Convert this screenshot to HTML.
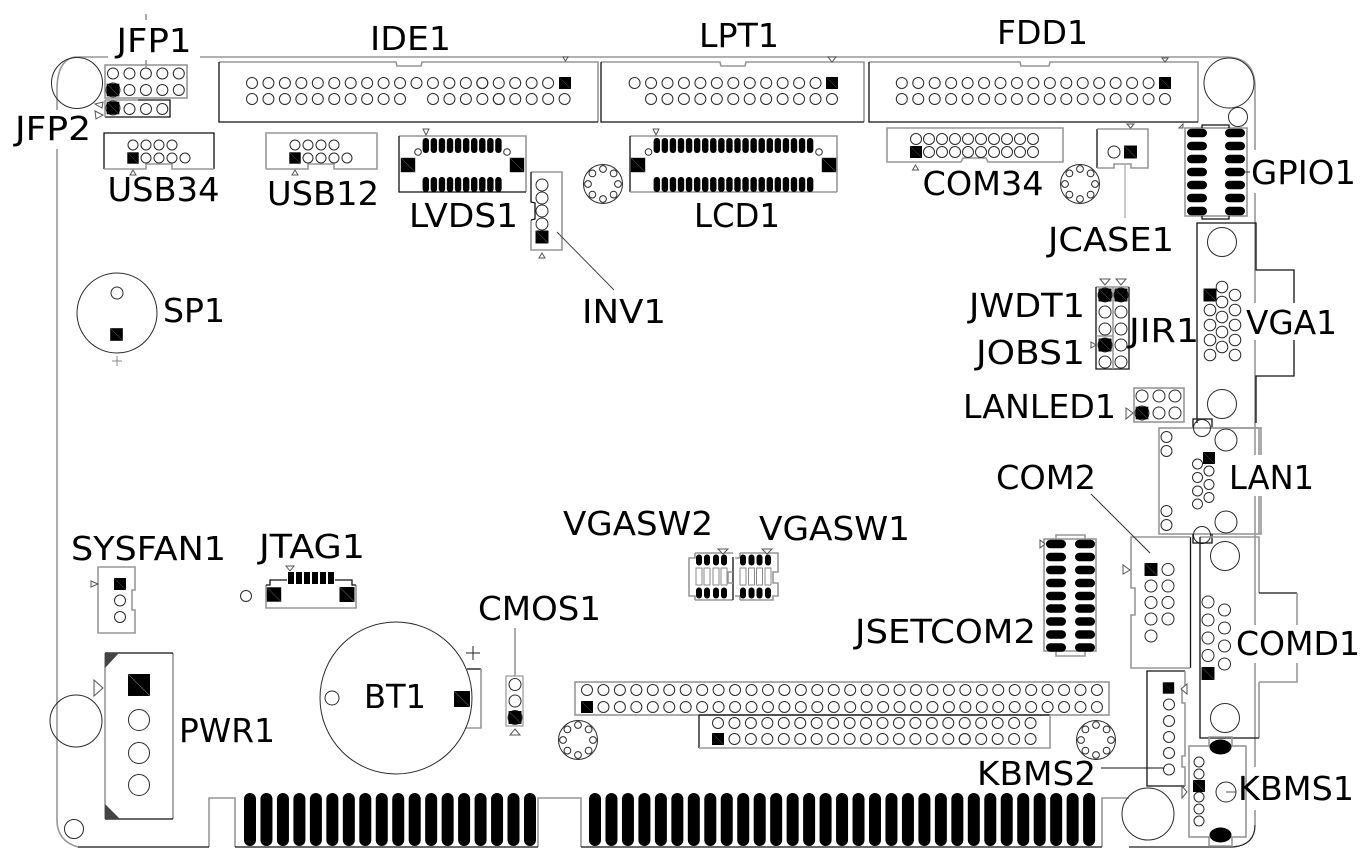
<!DOCTYPE html>
<html><head><meta charset="utf-8"><title>Board layout</title>
<style>
html,body{margin:0;padding:0;background:#fff}
svg{display:block}
text{font-family:"DejaVu Sans","Liberation Sans",sans-serif;font-size:33px;fill:#000;text-anchor:middle}
.g{fill:none;stroke:#979797;stroke-width:1.6}
.b{fill:none;stroke:#111;stroke-width:1.3}
.c{fill:none;stroke:#2a2a2a;stroke-width:1}
.t{fill:#fff;stroke:#555;stroke-width:1}
.k{fill:#000}
</style></head><body>
<svg width="1365" height="863" viewBox="0 0 1365 863" xmlns="http://www.w3.org/2000/svg">
<defs>
<circle id="c" r="5.5"/>
<g id="r5"><use href="#c"/><use href="#c" x="16.45"/><use href="#c" x="32.9"/><use href="#c" x="49.35"/><use href="#c" x="65.8"/></g>
<g id="r10"><use href="#r5"/><use href="#r5" x="82.25"/></g>
<g id="s"><rect x="-6" y="-6" width="12" height="12" fill="#000"/><line x1="-6" y1="-6" x2="6" y2="6" stroke="#4d5a4d" stroke-width=".5"/></g>
<rect id="p" x="0" y="0" width="12" height="53" rx="6" fill="#000"/>
<g id="p5"><use href="#p"/><use href="#p" x="16.47"/><use href="#p" x="32.94"/><use href="#p" x="49.41"/><use href="#p" x="65.88"/></g>
<g id="p10"><use href="#p5"/><use href="#p5" x="82.35"/></g>
<rect id="lp" x="-0.4" y="0" width="6.4" height="15" rx="3" fill="#000"/>
<g id="lp10"><use href="#lp"/><use href="#lp" x="8.07"/><use href="#lp" x="16.14"/><use href="#lp" x="24.21"/><use href="#lp" x="32.28"/><use href="#lp" x="40.35"/><use href="#lp" x="48.42"/><use href="#lp" x="56.49"/><use href="#lp" x="64.56"/><use href="#lp" x="72.63"/></g>
<rect id="hp" x="0" y="-4.3" width="20" height="8.6" rx="4.3" fill="#000"/>
<g id="so" class="c"><circle r="19.5"/><circle cy="-15" r="3.4"/><circle cx="10.6" cy="-10.6" r="3.4"/><circle cx="15" r="3.4"/><circle cx="10.6" cy="10.6" r="3.4"/><circle cy="15" r="3.4"/><circle cx="-10.6" cy="10.6" r="3.4"/><circle cx="-15" r="3.4"/><circle cx="-10.6" cy="-10.6" r="3.4"/></g>
<g id="swp"><rect x="-3" y="-5.5" width="6" height="11" rx="3" fill="#000"/><rect x="-3" y="8" width="6" height="17" fill="none" stroke="#8a8a8a" stroke-width="1"/><rect x="-3" y="27.5" width="6" height="11" rx="3" fill="#000"/></g>
</defs>

<!-- board outline -->
<path class="g" d="M75 57H1225Q1255 57 1255 87V825"/>
<path class="g" d="M75 57Q57 60 57 90V820Q57 841 78 847"/>
<path class="g" d="M209 847V798H235V847M538 847V798H581V847M1102 847V798H1129"/>
<path class="b" d="M78 847H209M235 847H538M581 847H1102"/>
<path d="M1129 847H1233Q1255 845 1255 825" fill="none" stroke="#222" stroke-width="1.2"/>
<path class="g" d="M146 14V20M146 60V67"/>

<!-- holes -->
<g class="c">
<circle cx="77" cy="83" r="25.5"/><circle cx="1229" cy="83" r="25"/><circle cx="1238" cy="117" r="9.5"/>
<circle cx="76" cy="721" r="26"/><circle cx="74" cy="829" r="9.5"/><circle cx="1148" cy="814" r="26"/>
<circle cx="246" cy="596" r="5.5"/>
</g>
<use href="#so" x="603" y="184"/><use href="#so" x="1080" y="184"/><use href="#so" x="578" y="740"/><use href="#so" x="1096" y="740"/>

<!-- JFP1 / JFP2 -->
<rect class="g" x="105" y="65" width="82" height="33"/>
<path class="g" d="M105 100H138"/><path class="b" d="M138 100H170V117H105"/><path class="g" d="M105 100V117"/>
<g class="c"><use href="#r5" x="113" y="73.5"/><use href="#r5" x="113" y="90"/><use href="#c" x="129.5" y="109"/><use href="#c" x="146" y="109"/><use href="#c" x="162.3" y="109"/><circle cx="113" cy="90" r="7"/><circle cx="113" cy="108" r="7"/></g>
<use href="#s" transform="translate(113 90) scale(1.05)"/><use href="#s" transform="translate(113 108) scale(1.05)"/>
<polygon class="t" points="95,104 103,102 102,108"/><polygon class="t" points="95,111 103,115 96,119"/>

<!-- IDE1 -->
<path class="g" d="M219 62H396L397 66H421L422 62H598V122"/><path class="b" d="M219 62V122H598"/>
<g class="c"><use href="#r10" x="252" y="83"/><use href="#r5" x="416.5" y="83"/><use href="#r5" x="482.3" y="83"/>
<use href="#r10" x="252" y="99"/><use href="#r5" x="433" y="99"/><use href="#r5" x="498.8" y="99"/></g>
<use href="#s" transform="translate(565 83)"/><polygon class="t" points="563,57 568,57 565.5,61"/>

<!-- LPT1 -->
<path class="g" d="M601 62H720L721 66H745L746 62H864V122"/><path class="b" d="M601 62V122H864"/>
<g class="c"><use href="#r10" x="634.6" y="83"/><use href="#c" x="799.1" y="83"/><use href="#c" x="815.55" y="83"/>
<use href="#r10" x="651" y="99"/><use href="#c" x="815.5" y="99"/><use href="#c" x="832" y="99"/></g>
<use href="#s" transform="translate(832 83)"/><polygon class="t" points="828,57 836,57 832,62"/>

<!-- FDD1 -->
<path class="g" d="M869 62H1020L1021 66H1049L1050 62H1198V122"/><path class="b" d="M869 62V122H1198"/>
<g class="c"><use href="#r10" x="901.8" y="83"/><use href="#r5" x="1066.3" y="83"/><use href="#c" x="1148.55" y="83"/>
<use href="#r10" x="901.8" y="99"/><use href="#r5" x="1066.3" y="99"/><use href="#c" x="1148.55" y="99"/><use href="#c" x="1165" y="99"/></g>
<use href="#s" transform="translate(1165 83)"/><polygon class="t" points="1162,58 1168,58 1165,62"/>

<!-- USB34 / USB12 -->
<path class="b" d="M104 169V133H214V169"/><path class="g" d="M104 169H146V164H172V169H214"/>
<g class="c"><circle cx="133" cy="145" r="5"/><circle cx="146" cy="145" r="5"/><circle cx="159" cy="145" r="5"/><circle cx="172" cy="145" r="5"/><circle cx="146" cy="158" r="5"/><circle cx="159" cy="158" r="5"/><circle cx="172" cy="158" r="5"/><circle cx="185" cy="158" r="5"/></g>
<use href="#s" transform="translate(133 158) scale(.95)"/><polygon class="t" points="133,170 136,175 130,175"/>
<path class="g" d="M266 169V133H377V169H334V164H308V169H266"/>
<g class="c"><circle cx="295" cy="145" r="5"/><circle cx="308" cy="145" r="5"/><circle cx="321" cy="145" r="5"/><circle cx="334" cy="145" r="5"/><circle cx="308" cy="158" r="5"/><circle cx="321" cy="158" r="5"/><circle cx="334" cy="158" r="5"/><circle cx="347" cy="158" r="5"/></g>
<use href="#s" transform="translate(295 158) scale(.95)"/><polygon class="t" points="295,170 298,175 292,175"/>

<!-- LVDS1 -->
<path class="g" d="M399 136H526V192"/><path class="b" d="M399 136V192H526"/>
<use href="#lp10" x="423" y="138"/><use href="#lp10" x="423" y="177"/>
<g class="c"><circle cx="418" cy="152" r="3.3"/><circle cx="507" cy="152" r="3.3"/></g>
<use href="#s" transform="translate(408 165) scale(1.2)"/><use href="#s" transform="translate(517 165) scale(1.2)"/>
<polygon class="t" points="423,129 429,129 426,135"/>

<!-- LCD1 -->
<path class="g" d="M630 136H837V192"/><path class="b" d="M630 136V192"/><path class="g" d="M630 192H837"/>
<use href="#lp10" x="654" y="138"/><use href="#lp10" x="734.7" y="138"/><use href="#lp10" x="654" y="177"/><use href="#lp10" x="734.7" y="177"/>
<g class="c"><circle cx="648.5" cy="152" r="3.3"/><circle cx="819" cy="152" r="3.3"/></g>
<use href="#s" transform="translate(638 165) scale(1.2)"/><use href="#s" transform="translate(829 165) scale(1.2)"/>
<polygon class="t" points="653,129 659,129 656,135"/>

<!-- INV1 -->
<path class="g" d="M531 172H562V250H531V220"/><path class="b" d="M531 172V202L535 203V219L531 220"/>
<g class="c"><circle cx="542" cy="185" r="6"/><circle cx="542" cy="198" r="6"/><circle cx="542" cy="211" r="6"/><circle cx="542" cy="224" r="6"/></g>
<use href="#s" transform="translate(542 237) scale(1.08)"/><polygon class="t" points="542,253 545,258 539,258"/>
<path d="M557 232L614 290" stroke="#444" stroke-width="1" fill="none"/>

<!-- COM34 -->
<path class="g" d="M887 128H1063V162H988L986 158H963L961 162H887Z"/>
<g class="c"><circle cx="916" cy="139" r="5.5"/><circle cx="929" cy="139" r="5.5"/><circle cx="942" cy="139" r="5.5"/><circle cx="955" cy="139" r="5.5"/><circle cx="968" cy="139" r="5.5"/><circle cx="981" cy="139" r="5.5"/><circle cx="994" cy="139" r="5.5"/><circle cx="1007" cy="139" r="5.5"/><circle cx="1020" cy="139" r="5.5"/><circle cx="1033" cy="139" r="5.5"/>
<circle cx="929" cy="152" r="5.5"/><circle cx="942" cy="152" r="5.5"/><circle cx="955" cy="152" r="5.5"/><circle cx="968" cy="152" r="5.5"/><circle cx="981" cy="152" r="5.5"/><circle cx="994" cy="152" r="5.5"/><circle cx="1007" cy="152" r="5.5"/><circle cx="1020" cy="152" r="5.5"/><circle cx="1033" cy="152" r="5.5"/></g>
<use href="#s" transform="translate(916 152)"/><polygon class="t" points="915.5,165 918.5,170 912.5,170"/>

<!-- JCASE1 -->
<path class="b" d="M1097 129V168"/><path class="g" d="M1097 129H1148V168H1131V164H1114V168H1097"/>
<circle class="c" cx="1114" cy="152" r="6"/><use href="#s" transform="translate(1130.5 152) scale(1.08)"/>
<polygon class="t" points="1127,124 1134,124 1130.5,128"/>
<path class="g" d="M1125 165V218" style="stroke-width:1"/>

<!-- GPIO1 -->
<rect class="g" x="1185" y="128" width="62" height="88"/>
<path class="b" d="M1202 128V125H1229V128M1202 216V219H1229V216"/>
<g id="gpr"><use href="#hp" x="1187" y="133"/><use href="#hp" x="1187" y="146"/><use href="#hp" x="1187" y="159"/><use href="#hp" x="1187" y="172"/><use href="#hp" x="1187" y="185"/><use href="#hp" x="1187" y="198"/><use href="#hp" x="1187" y="211"/>
<use href="#hp" x="1225" y="133"/><use href="#hp" x="1225" y="146"/><use href="#hp" x="1225" y="159"/><use href="#hp" x="1225" y="172"/><use href="#hp" x="1225" y="185"/><use href="#hp" x="1225" y="198"/><use href="#hp" x="1225" y="211"/></g>
<polygon class="t" points="1179,128 1183,124 1183,128"/>
<path d="M1245 172H1250" stroke="#333" stroke-width="1"/>

<!-- VGA1 -->
<path class="b" d="M1197 423V223H1256V270H1294V376H1256V423"/>
<g class="c"><circle cx="1222" cy="242" r="14.5"/><circle cx="1222" cy="404" r="14.5"/>
<circle cx="1222" cy="287" r="5.8"/><circle cx="1222" cy="302" r="5.8"/><circle cx="1222" cy="317" r="5.8"/><circle cx="1222" cy="332" r="5.8"/><circle cx="1222" cy="347" r="5.8"/>
<circle cx="1235" cy="295" r="5.8"/><circle cx="1235" cy="310" r="5.8"/><circle cx="1235" cy="325" r="5.8"/><circle cx="1235" cy="340" r="5.8"/><circle cx="1235" cy="355" r="5.8"/>
<circle cx="1210" cy="310" r="5.8"/><circle cx="1210" cy="325" r="5.8"/><circle cx="1210" cy="340" r="5.8"/><circle cx="1210" cy="355" r="5.8"/></g>
<use href="#s" transform="translate(1210 295) scale(1.08)"/>

<!-- JWDT/JIR/JOBS -->
<path class="g" d="M1096 287H1129"/><path class="b" d="M1096 287V369H1129V287"/><path class="g" d="M1113 287V369M1096 336H1113"/>
<g class="c"><circle cx="1105" cy="295" r="7"/><circle cx="1105" cy="312" r="6"/><circle cx="1105" cy="329" r="6"/><circle cx="1105" cy="345" r="7"/><circle cx="1105" cy="362" r="6"/>
<circle cx="1121" cy="295" r="7"/><circle cx="1121" cy="312" r="6"/><circle cx="1121" cy="329" r="6"/><circle cx="1121" cy="345" r="6"/><circle cx="1121" cy="362" r="6"/></g>
<use href="#s" transform="translate(1105 295) scale(1.08)"/><use href="#s" transform="translate(1121 295) scale(1.08)"/><use href="#s" transform="translate(1105 345) scale(1.08)"/>
<polygon class="t" points="1100,279 1110,279 1105,285"/><polygon class="t" points="1116,279 1126,279 1121,285"/><polygon class="t" points="1091,342 1096,345 1091,348"/>

<!-- LANLED1 -->
<rect class="g" x="1134" y="388" width="50" height="34"/>
<g class="c"><circle cx="1142" cy="396" r="6"/><circle cx="1159" cy="396" r="6"/><circle cx="1175" cy="396" r="6"/><circle cx="1142" cy="413" r="7"/><circle cx="1159" cy="413" r="6"/><circle cx="1175" cy="413" r="6"/></g>
<use href="#s" transform="translate(1142 413) scale(1.05)"/><polygon class="t" points="1126,408 1133,413 1126,419"/>

<!-- LAN1 -->
<path class="b" d="M1193 428V419H1212V428"/>
<rect class="g" x="1159" y="428" width="102" height="106"/>
<path class="g" d="M1205 428H1259V534"/>
<g class="c"><circle cx="1166.5" cy="437" r="5.5"/><circle cx="1166.5" cy="451" r="5.5"/><circle cx="1166.5" cy="511" r="5.5"/><circle cx="1166.5" cy="525" r="5.5"/>
<circle cx="1226" cy="440" r="11"/><circle cx="1226" cy="522" r="11"/>
<circle cx="1197.5" cy="464" r="5"/><circle cx="1209" cy="471" r="5"/><circle cx="1197.5" cy="477.5" r="5"/><circle cx="1209" cy="484.5" r="5"/><circle cx="1197.5" cy="491" r="5"/><circle cx="1209" cy="497.5" r="5"/><circle cx="1197.5" cy="504" r="5"/>
<circle cx="1202" cy="428" r="8.5"/><circle cx="1202" cy="535" r="8.5"/></g>
<use href="#s" transform="translate(1209 458)"/>
<path class="b" d="M1193 534V543H1212V534"/>

<!-- COMD1 -->
<path class="g" d="M1200 537H1259V593M1259 682V738"/><path class="b" d="M1200 537V738H1259M1259 593H1297"/>
<path class="g" d="M1297 593V682H1259"/>
<g class="c"><circle cx="1225" cy="556" r="14.5"/><circle cx="1225" cy="718" r="14.5"/>
<circle cx="1208" cy="602" r="6"/><circle cx="1208" cy="620" r="6"/><circle cx="1208" cy="638" r="6"/><circle cx="1208" cy="655.5" r="6"/>
<circle cx="1224.5" cy="610" r="6"/><circle cx="1224.5" cy="628" r="6"/><circle cx="1224.5" cy="646" r="6"/><circle cx="1224.5" cy="664" r="6"/></g>
<use href="#s" transform="translate(1208 673.5) scale(1.08)"/>

<!-- COM2 -->
<path class="b" d="M1190.5 537V668"/><path class="g" d="M1190.5 537H1131V588H1135V615H1131V668H1190.5"/>
<polygon class="t" points="1123,565 1130,570 1123,574"/>
<g class="c"><circle cx="1168" cy="569.5" r="6"/><circle cx="1151" cy="586" r="6"/><circle cx="1168" cy="586" r="6"/><circle cx="1151" cy="602.5" r="6"/><circle cx="1168" cy="602.5" r="6"/><circle cx="1151" cy="619" r="6"/><circle cx="1168" cy="619" r="6"/><circle cx="1151" cy="636" r="6"/></g>
<use href="#s" transform="translate(1151 569.5) scale(1.08)"/>
<path d="M1091 494L1150 553" stroke="#333" stroke-width="1" fill="none"/>

<!-- JSETCOM2 -->
<rect class="g" x="1044" y="539" width="52" height="112"/>
<path class="g" d="M1056 539V535H1085V539M1056 651V656H1085V651"/>
<g><use href="#hp" x="1046" y="544"/><use href="#hp" x="1046" y="557"/><use href="#hp" x="1046" y="570"/><use href="#hp" x="1046" y="583"/><use href="#hp" x="1046" y="596"/><use href="#hp" x="1046" y="608.5"/><use href="#hp" x="1046" y="621.5"/><use href="#hp" x="1046" y="634.5"/><use href="#hp" x="1046" y="647.5"/>
<use href="#hp" x="1075" y="544"/><use href="#hp" x="1075" y="557"/><use href="#hp" x="1075" y="570"/><use href="#hp" x="1075" y="583"/><use href="#hp" x="1075" y="596"/><use href="#hp" x="1075" y="608.5"/><use href="#hp" x="1075" y="621.5"/><use href="#hp" x="1075" y="634.5"/><use href="#hp" x="1075" y="647.5"/></g>
<polygon class="t" points="1040,540 1045,544 1040,548"/>

<!-- KBMS2 -->
<path class="b" d="M1185 671H1147V786H1185"/><path class="g" d="M1185 671V690H1182V703H1185V756H1182V767H1185V786"/>
<g class="c"><circle cx="1169" cy="704.5" r="5.5"/><circle cx="1169" cy="721" r="5.5"/><circle cx="1169" cy="737" r="5.5"/><circle cx="1169" cy="753" r="5.5"/><circle cx="1169" cy="769.5" r="5.5"/></g>
<use href="#s" transform="translate(1168.5 688) scale(.95)"/><polygon class="t" points="1181,689 1187,684 1187,694"/>
<path d="M1101 768H1164" stroke="#111" stroke-width="1"/>

<!-- KBMS1 -->
<rect class="g" x="1189" y="746" width="57" height="91"/>
<path class="g" d="M1209 746V737H1232V746M1209 837V846H1232V837"/>
<ellipse cx="1220.5" cy="747" rx="11" ry="7.5" fill="#000"/><ellipse cx="1220.5" cy="835" rx="11" ry="7.5" fill="#000"/>
<g class="c"><circle cx="1199" cy="762" r="5"/><circle cx="1199" cy="774" r="5"/><circle cx="1199" cy="797" r="5"/><circle cx="1199" cy="809" r="5"/><circle cx="1199" cy="821" r="5"/><circle cx="1226" cy="792" r="10"/></g>
<use href="#s" transform="translate(1199 786)"/><polygon class="t" points="1182,786 1187,792 1182,798"/>
<path d="M1226 792H1236" stroke="#555" stroke-width="1"/>

<!-- SP1 -->
<circle class="c" cx="117" cy="313" r="40"/><circle class="c" cx="117" cy="293" r="6"/>
<use href="#s" transform="translate(116.5 334.5) scale(1.05)"/>
<path d="M117 356V366M112 361H122" stroke="#888" stroke-width="1"/>

<!-- SYSFAN1 -->
<path class="g" d="M98 567H135V590H132V610H135V633H98Z"/>
<use href="#s" transform="translate(120 584)"/>
<g class="c"><circle cx="120" cy="600.5" r="5.5"/><circle cx="120" cy="617" r="5.5"/></g>
<polygon class="t" points="91,581 98,584 91,587"/>

<!-- JTAG1 -->
<path class="g" d="M266 585V608H356V585"/><path class="b" d="M266 585H270V580H287M335 580H352V585H356"/>
<rect x="288" y="572" width="6" height="12" fill="#000"/><rect x="296" y="572" width="6" height="12" fill="#000"/><rect x="304" y="572" width="6" height="12" fill="#000"/><rect x="312" y="572" width="6" height="12" fill="#000"/><rect x="320" y="572" width="6" height="12" fill="#000"/><rect x="328" y="572" width="6" height="12" fill="#000"/>
<use href="#s" transform="translate(274 594.5) scale(1.2)"/><use href="#s" transform="translate(347 594.5) scale(1.25)"/>
<polygon class="t" points="286,566 294,566 290,571"/>

<!-- PWR1 -->
<path class="g" d="M105 653V819M173 653V819"/><path class="b" d="M105 653H173M105 819H173"/>
<polygon points="105,653 119,653 105,668" fill="#444"/><polygon points="105,804 120,819 105,819" fill="#444"/>
<polygon class="t" points="94,680 103,688 94,696"/>
<use href="#s" transform="translate(139 685) scale(1.83)"/>
<g class="c"><circle cx="139" cy="720" r="10.5"/><circle cx="139" cy="753" r="10.5"/><circle cx="139" cy="785" r="10.5"/></g>

<!-- BT1 -->
<path class="b" d="M467 669H481"/><path class="g" d="M481 669V728H465"/>
<circle class="c" cx="396" cy="698" r="76"/><circle class="c" cx="332" cy="698" r="7"/>
<use href="#s" transform="translate(462 699) scale(1.33)"/>
<path d="M473 646V660M466 653H480" stroke="#222" stroke-width="1"/>

<!-- CMOS1 -->
<rect class="g" x="506" y="676" width="17" height="50" style="stroke-width:1.2"/>
<path class="g" d="M515 628V676"/>
<g class="c"><circle cx="515" cy="684.5" r="6"/><circle cx="515" cy="701" r="6"/><circle cx="515" cy="717.5" r="7"/></g>
<use href="#s" transform="translate(515 717.5) scale(1.08)"/><polygon class="t" points="515,729 520,735 510,735"/>

<!-- VGASW -->
<path class="g" d="M695 553H733M695 600H733M695 553V558H689V596H695V600"/><path class="b" d="M733 557V600"/>
<path class="g" d="M733 572H728V583H733"/>
<path class="g" d="M740 553H778V572H773V583H778V596H773V600H740M740 553V558H735M740 600V596H735"/>
<use href="#swp" x="699" y="560"/><use href="#swp" x="707" y="560"/><use href="#swp" x="716" y="560"/><use href="#swp" x="724" y="560"/>
<use href="#swp" x="743" y="560"/><use href="#swp" x="751.5" y="560"/><use href="#swp" x="759.5" y="560"/><use href="#swp" x="768" y="560"/>
<polygon class="t" points="718,549 728,549 723,554"/><polygon class="t" points="762,549 772,549 767,554"/>

<!-- expansion headers -->
<rect class="g" x="575" y="682" width="534" height="33"/>
<g class="c"><use href="#r10" x="587" y="690"/><use href="#r10" x="751.5" y="690"/><use href="#r10" x="916" y="690"/><use href="#c" x="1080.5" y="690"/><use href="#c" x="1096.95" y="690"/>
<use href="#r10" x="603.45" y="707"/><use href="#r10" x="767.95" y="707"/><use href="#r10" x="932.45" y="707"/><use href="#c" x="1096.95" y="707"/></g>
<use href="#s" transform="translate(587 707)"/>
<path class="b" d="M699 715V748"/><path class="b" d="M699 715H1050"/><path class="g" d="M699 748H1050V715"/>
<g class="c"><use href="#r10" x="718" y="723"/><use href="#r10" x="882.5" y="723"/>
<use href="#r10" x="734.45" y="739"/><use href="#r5" x="898.95" y="739"/><use href="#r5" x="964.75" y="739"/></g>
<use href="#s" transform="translate(718 739)"/>

<!-- edge fingers -->
<use href="#p10" x="244" y="793"/><use href="#p5" x="408.7" y="793"/><use href="#p" x="491.05" y="793"/><use href="#p" x="507.5" y="793"/><use href="#p" x="524" y="793"/>
<use href="#p10" x="589" y="793"/><use href="#p10" x="753.7" y="793"/><use href="#p10" x="918.4" y="793"/><use href="#p" x="1083.1" y="793"/>

<!-- label gaps -->
<g fill="#fff">
<rect x="108" y="53" width="92" height="7"/>
<rect x="54" y="110" width="7" height="39"/>
<rect x="1252" y="150" width="7" height="43"/>
<rect x="1253" y="303" width="6" height="37"/><rect x="1291" y="303" width="6" height="37"/>
<rect x="1252" y="455" width="12" height="41"/>
<rect x="1252" y="625" width="10" height="38"/><rect x="1294" y="625" width="6" height="38"/>
<rect x="1252" y="767" width="7" height="43"/>
</g>

<!-- labels -->
<g>
<text x="154" y="52" textLength="75" lengthAdjust="spacingAndGlyphs">JFP1</text>
<text x="410.5" y="50" textLength="81" lengthAdjust="spacingAndGlyphs">IDE1</text>
<text x="739" y="47" textLength="80" lengthAdjust="spacingAndGlyphs">LPT1</text>
<text x="1042.5" y="44" textLength="91" lengthAdjust="spacingAndGlyphs">FDD1</text>
<text x="53" y="140" textLength="76" lengthAdjust="spacingAndGlyphs">JFP2</text>
<text x="163.5" y="201" textLength="112" lengthAdjust="spacingAndGlyphs">USB34</text>
<text x="323" y="205" textLength="112" lengthAdjust="spacingAndGlyphs">USB12</text>
<text x="463.5" y="227" textLength="109" lengthAdjust="spacingAndGlyphs">LVDS1</text>
<text x="737" y="227" textLength="86" lengthAdjust="spacingAndGlyphs">LCD1</text>
<text x="983" y="195" textLength="121" lengthAdjust="spacingAndGlyphs">COM34</text>
<text x="1111" y="251" textLength="126" lengthAdjust="spacingAndGlyphs">JCASE1</text>
<text x="1303.5" y="184" textLength="105" lengthAdjust="spacingAndGlyphs">GPIO1</text>
<text x="1027" y="317" textLength="116" lengthAdjust="spacingAndGlyphs">JWDT1</text>
<text x="1164" y="342" textLength="70" lengthAdjust="spacingAndGlyphs">JIR1</text>
<text x="1030.5" y="364" textLength="109" lengthAdjust="spacingAndGlyphs">JOBS1</text>
<text x="1291.5" y="334" textLength="91" lengthAdjust="spacingAndGlyphs">VGA1</text>
<text x="1039.5" y="418" textLength="153" lengthAdjust="spacingAndGlyphs">LANLED1</text>
<text x="1271.5" y="489" textLength="85" lengthAdjust="spacingAndGlyphs">LAN1</text>
<text x="1046" y="489" textLength="100" lengthAdjust="spacingAndGlyphs">COM2</text>
<text x="945.5" y="643" textLength="181" lengthAdjust="spacingAndGlyphs">JSETCOM2</text>
<text x="1298" y="655" textLength="124" lengthAdjust="spacingAndGlyphs">COMD1</text>
<text x="1036.5" y="785" textLength="119" lengthAdjust="spacingAndGlyphs">KBMS2</text>
<text x="1296" y="800" textLength="116" lengthAdjust="spacingAndGlyphs">KBMS1</text>
<text x="638" y="535" textLength="150" lengthAdjust="spacingAndGlyphs">VGASW2</text>
<text x="834.5" y="540" textLength="151" lengthAdjust="spacingAndGlyphs">VGASW1</text>
<text x="148.5" y="560" textLength="155" lengthAdjust="spacingAndGlyphs">SYSFAN1</text>
<text x="312" y="558" textLength="106" lengthAdjust="spacingAndGlyphs">JTAG1</text>
<text x="539.5" y="620" textLength="123" lengthAdjust="spacingAndGlyphs">CMOS1</text>
<text x="194" y="322" textLength="62" lengthAdjust="spacingAndGlyphs">SP1</text>
<text x="624" y="323" textLength="84" lengthAdjust="spacingAndGlyphs">INV1</text>
<text x="227" y="742" textLength="96" lengthAdjust="spacingAndGlyphs">PWR1</text>
<text x="395" y="708" textLength="62" lengthAdjust="spacingAndGlyphs">BT1</text>
</g>
</svg>
</body></html>
